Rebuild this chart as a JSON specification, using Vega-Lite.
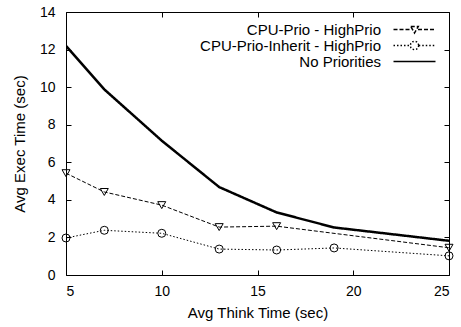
{
  "$schema": "https://vega.github.io/schema/vega-lite/v6.json",
  "width": 383,
  "height": 263,
  "autosize": {"type": "none"},
  "padding": {"left": 66, "top": 12, "right": 12, "bottom": 52},
  "background": "white",
  "config": {
    "font": "Liberation Sans",
    "view": {"stroke": "black", "strokeWidth": 1},
    "axis": {
      "domain": false,
      "grid": false,
      "ticks": true,
      "tickColor": "black",
      "tickSize": -5,
      "tickWidth": 1,
      "labelFont": "Liberation Sans",
      "labelFontSize": 14,
      "labelColor": "black",
      "titleFont": "Liberation Sans",
      "titleFontSize": 15,
      "titleFontWeight": "normal",
      "titleColor": "black"
    },
    "legend": {
      "labelFont": "Liberation Sans",
      "labelFontSize": 15,
      "labelColor": "black",
      "labelLimit": 0
    }
  },
  "data": {
    "values": [
      {"think": 5, "exec": 12.2, "series": "No Priorities"},
      {"think": 7, "exec": 9.88, "series": "No Priorities"},
      {"think": 10, "exec": 7.15, "series": "No Priorities"},
      {"think": 13, "exec": 4.68, "series": "No Priorities"},
      {"think": 16, "exec": 3.33, "series": "No Priorities"},
      {"think": 19, "exec": 2.53, "series": "No Priorities"},
      {"think": 25, "exec": 1.82, "series": "No Priorities"},
      {"think": 5, "exec": 5.42, "series": "CPU-Prio - HighPrio"},
      {"think": 7, "exec": 4.42, "series": "CPU-Prio - HighPrio"},
      {"think": 10, "exec": 3.72, "series": "CPU-Prio - HighPrio"},
      {"think": 13, "exec": 2.55, "series": "CPU-Prio - HighPrio"},
      {"think": 16, "exec": 2.6, "series": "CPU-Prio - HighPrio"},
      {"think": 25, "exec": 1.45, "series": "CPU-Prio - HighPrio"},
      {"think": 5, "exec": 1.97, "series": "CPU-Prio-Inherit - HighPrio"},
      {"think": 7, "exec": 2.38, "series": "CPU-Prio-Inherit - HighPrio"},
      {"think": 10, "exec": 2.22, "series": "CPU-Prio-Inherit - HighPrio"},
      {"think": 13, "exec": 1.38, "series": "CPU-Prio-Inherit - HighPrio"},
      {"think": 16, "exec": 1.33, "series": "CPU-Prio-Inherit - HighPrio"},
      {"think": 19, "exec": 1.44, "series": "CPU-Prio-Inherit - HighPrio"},
      {"think": 25, "exec": 1.02, "series": "CPU-Prio-Inherit - HighPrio"}
    ]
  },
  "resolve": {"axis": {"x": "independent", "y": "independent"}},
  "layer": [
    {
      "mark": {"type": "line", "color": "black", "clip": true},
      "encoding": {
        "x": {
          "field": "think", "type": "quantitative",
          "scale": {"domain": [5, 25], "nice": false, "zero": false},
          "axis": {"orient": "bottom", "values": [5, 10, 15, 20, 25], "title": "Avg Think Time (sec)", "labelPadding": 14, "titlePadding": 7}
        },
        "y": {
          "field": "exec", "type": "quantitative",
          "scale": {"domain": [0, 14], "nice": false},
          "axis": {"orient": "left", "values": [0, 2, 4, 6, 8, 10, 12, 14], "title": "Avg Exec Time (sec)", "labelPadding": 16, "titlePadding": 12}
        },
        "strokeDash": {
          "field": "series", "type": "nominal",
          "scale": {
            "domain": ["CPU-Prio - HighPrio", "CPU-Prio-Inherit - HighPrio", "No Priorities"],
            "range": [[4, 2], [1.5, 2], [1, 0]]
          },
          "legend": {
            "title": null,
            "orient": "top-right",
            "offset": 10,
            "symbolSize": 100,
            "symbolType": {"expr": "datum.value === 'No Priorities' ? 'M-4.2,0H4.2' : datum.value === 'CPU-Prio - HighPrio' ? 'M-4.2,0H-0.7M0.7,0H4.2M-0.75,-0.6L0.75,-0.6L0,0.7Z' : 'M-4.2,0H-0.85M0.85,0H4.2M0.85,0L0.736,0.425L0.425,0.736L0,0.85L-0.425,0.736L-0.736,0.425L-0.85,0L-0.736,-0.425L-0.425,-0.736L0,-0.85L0.425,-0.736L0.736,-0.425Z'"},
            "labelAlign": "right",
            "labelOffset": -41,
            "rowPadding": -5,
            "padding": 0,
            "encode": {
              "symbols": {
                "strokeWidth": {
                  "condition": {"test": "datum.value === 'No Priorities'", "value": 2.5},
                  "value": 1
                },
                "stroke": {"value": "black"},
                "fill": {"value": "transparent"},
                "opacity": {"value": 1}
              }
            }
          }
        },
        "strokeWidth": {
          "condition": {"test": "datum.series === 'No Priorities'", "value": 2.5},
          "value": 1
        },
        "detail": {"field": "series", "type": "nominal"}
      }
    },
    {
      "transform": [{"filter": "datum.series !== 'No Priorities'"}],
      "mark": {"type": "point", "filled": false, "color": "black", "strokeWidth": 1, "size": 64, "opacity": 1},
      "encoding": {
        "x": {
          "field": "think", "type": "quantitative",
          "scale": {"domain": [5, 25], "nice": false, "zero": false},
          "axis": {"orient": "top", "values": [5, 10, 15, 20, 25], "labels": false, "title": null}
        },
        "y": {
          "field": "exec", "type": "quantitative",
          "scale": {"domain": [0, 14], "nice": false},
          "axis": {"orient": "right", "values": [0, 2, 4, 6, 8, 10, 12, 14], "labels": false, "title": null}
        },
        "shape": {
          "field": "series", "type": "nominal",
          "scale": {
            "domain": ["CPU-Prio - HighPrio", "CPU-Prio-Inherit - HighPrio"],
            "range": ["triangle-down", "circle"]
          },
          "legend": null
        }
      }
    }
  ]
}
